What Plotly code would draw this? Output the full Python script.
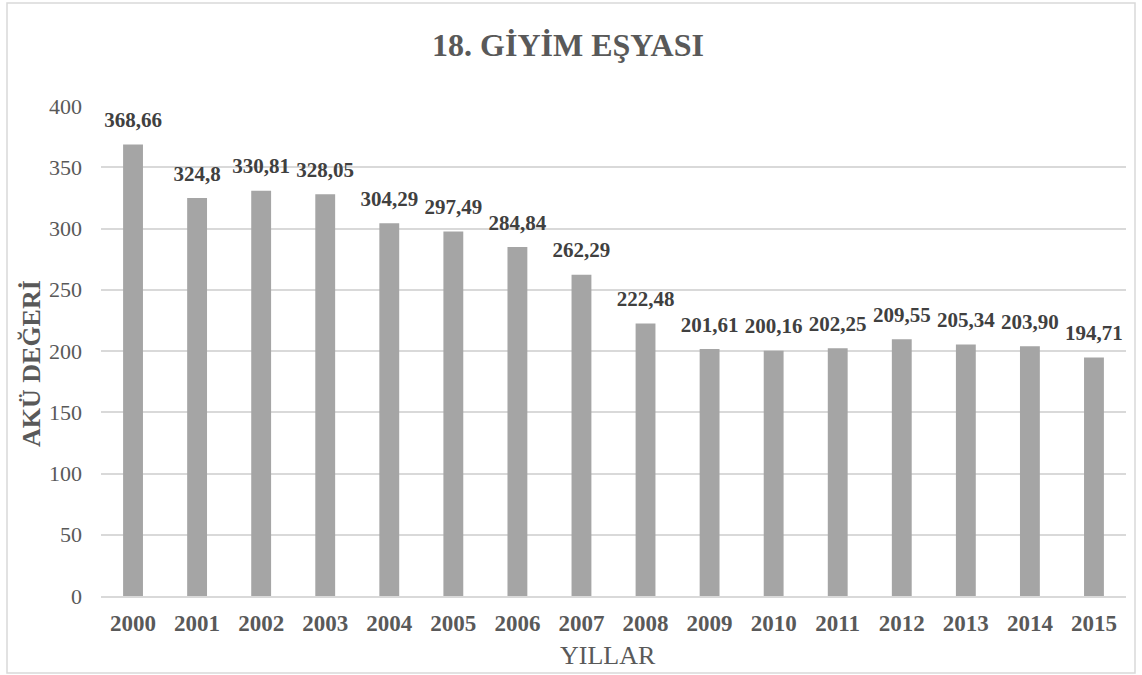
import plotly.graph_objects as go

years = ["2000", "2001", "2002", "2003", "2004", "2005", "2006", "2007",
         "2008", "2009", "2010", "2011", "2012", "2013", "2014", "2015"]
values = [368.66, 324.8, 330.81, 328.05, 304.29, 297.49, 284.84, 262.29,
          222.48, 201.61, 200.16, 202.25, 209.55, 205.34, 203.90, 194.71]
labels = ["368,66", "324,8", "330,81", "328,05", "304,29", "297,49", "284,84", "262,29",
          "222,48", "201,61", "200,16", "202,25", "209,55", "205,34", "203,90", "194,71"]
y_ticks = [0, 50, 100, 150, 200, 250, 300, 350, 400]

FONT = "Liberation Serif, Times New Roman, serif"
TXT = "#595959"

# plot area in pixels
L, R, T, B = 101, 1126, 106, 596
W, H = R - L, B - T

def px_x(p):
    return (p - L) / W

def px_y(p):
    return (B - p) / H

fig = go.Figure()
fig.add_trace(go.Bar(x=years, y=values, marker_color="#a5a5a5",
                     marker_line_width=0, hoverinfo="skip"))
fig.add_trace(go.Scatter(x=years, y=values, mode="markers+text",
                         text=["<b>%s</b>" % s for s in labels],
                         textposition="top center",
                         marker=dict(size=18, color="rgba(0,0,0,0)"),
                         textfont=dict(family=FONT, size=21, color="#404040"),
                         cliponaxis=False, hoverinfo="skip"))

fig.update_layout(
    width=1142, height=675,
    margin=dict(l=L, r=1142 - R, t=T, b=675 - B),
    paper_bgcolor="white", plot_bgcolor="white",
    bargap=0.69,
    showlegend=False,
    hovermode=False,
    title=dict(text="<b>18. GİYİM EŞYASI</b>", x=px_x(568), xref="paper", xanchor="center",
               y=1 - 45 / 675, yanchor="middle",
               font=dict(family=FONT, size=32, color=TXT)),
    font=dict(family=FONT, color=TXT),
    xaxis=dict(type="category", automargin=False, range=[-0.5, len(years) - 0.5],
               tickfont=dict(family=FONT, size=23, color=TXT, weight="bold"),
               showline=True, linecolor="#d9d9d9", linewidth=1.5,
               ticks="", showgrid=False, ticklabelstandoff=6),
    yaxis=dict(range=[0, 400], tickvals=y_ticks, automargin=False,
               tickfont=dict(family=FONT, size=22, color=TXT),
               gridcolor="#d9d9d9", gridwidth=1.5, zeroline=False,
               ticks="", ticklabelstandoff=18),
)

fig.add_annotation(xref="paper", yref="paper", x=px_x(31), y=px_y(364),
                   text="<b>AKÜ DEĞERİ</b>", textangle=-90, showarrow=False,
                   xanchor="center", yanchor="middle",
                   font=dict(family=FONT, size=26, color=TXT))
fig.add_annotation(xref="paper", yref="paper", x=px_x(608), y=px_y(655),
                   text="YILLAR", showarrow=False,
                   xanchor="center", yanchor="middle",
                   font=dict(family=FONT, size=26, color=TXT))

fig.add_shape(type="rect", xref="paper", yref="paper",
              x0=px_x(7), x1=px_x(1135), y0=px_y(673), y1=px_y(3),
              line=dict(color="#d9d9d9", width=1.5), fillcolor="rgba(0,0,0,0)", layer="below")

fig.write_html("out.html", config={"displayModeBar": False},
               post_script="document.body.style.margin='0';document.body.style.overflow='hidden';")
